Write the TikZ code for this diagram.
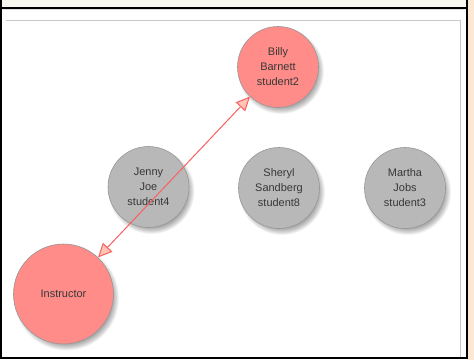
\documentclass[tikz,border=0pt]{standalone}
\usepackage{fontspec}
\setmainfont{Liberation Sans}
\usetikzlibrary{arrows.meta,calc}
\definecolor{redfill}{RGB}{255,140,136}
\definecolor{grayfill}{RGB}{184,184,184}
\definecolor{rimgray}{RGB}{150,150,150}
\definecolor{inktext}{RGB}{55,55,55}
\definecolor{linkred}{RGB}{250,95,95}
\definecolor{tipfill}{RGB}{255,196,180}
\definecolor{topstrip}{RGB}{248,247,239}
\definecolor{sidestrip}{RGB}{253,233,211}
\definecolor{panelline}{RGB}{200,200,200}
\tikzset{
  person/.style={circle, draw=rimgray, line width=0.6bp, minimum size=81bp, inner sep=0pt,
    align=center, text=inktext, font=\fontsize{11}{15}\selectfont},
  student/.style={person, fill=grayfill},
  lead/.style={person, fill=redfill},
  softshade/.style={fill=black, opacity=0.045},
  link/.style={draw=linkred, line width=1bp,
    {Triangle[length=14bp,width=13bp,fill=tipfill]}-{Triangle[length=14bp,width=13bp,fill=tipfill]}}
}
\begin{document}
\begin{tikzpicture}[x=1bp,y=-1bp]
  \useasboundingbox (0,0) rectangle (474,360);
  % window chrome
  \fill[white] (0,0) rectangle (474,360);
  \fill[topstrip] (0,0) rectangle (467,7);
  \fill[sidestrip] (467,0) rectangle (474,360);
  \draw[line width=2bp] (1,0) -- (1,358);
  \draw[line width=2bp] (0,7.5) -- (467,7.5);
  \draw[line width=2bp] (466.5,0) -- (466.5,358.5);
  \draw[line width=2bp] (0,357.5) -- (467,357.5);
  % canvas panel
  \draw[panelline, line width=0.9bp] (6,20.5) -- (460,20.5) -- (460,356.5);
  \draw[panelline!60, line width=0.6bp] (3,9.5) -- (465,9.5);
  % centres
  \coordinate (pbilly)  at (278,67);
  \coordinate (pjenny)  at (148.5,187);
  \coordinate (psheryl) at (279,188);
  \coordinate (pmartha) at (405,188);
  \coordinate (pinstr)  at (63.5,294);
  % soft drop shadows, offset down and right
  \foreach \c/\r in {pbilly/40.5, pjenny/40.5, psheryl/40.5, pmartha/40.5, pinstr/50} {
    \foreach \k in {0,...,8}
      \fill[softshade] ($(\c)+(3,4)$) circle ({\r+2.5-0.8*\k});
  }
  % people
  \node[lead]    (billy)  at (pbilly)  {Billy\\Barnett\\student2};
  \node[student] (jenny)  at (pjenny)  {Jenny\\Joe\\student4};
  \node[student] (sheryl) at (psheryl) {Sheryl\\Sandberg\\student8};
  \node[student] (martha) at (pmartha) {Martha\\Jobs\\student3};
  \node[lead, minimum size=100bp] (instr) at (pinstr) {Instructor};
  % relation
  \draw[link] (instr) -- (billy);
\end{tikzpicture}
\end{document}
